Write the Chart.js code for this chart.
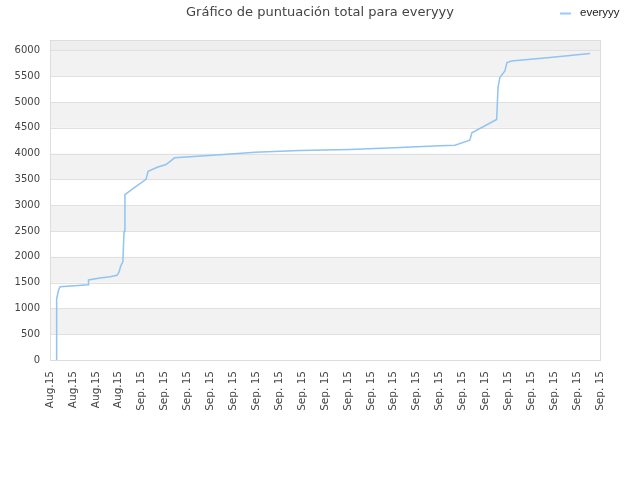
<!DOCTYPE html>
<html>
<head>
<meta charset="utf-8">
<script src="https://cdn.jsdelivr.net/npm/chart.js@4/dist/chart.umd.min.js"></script>
<style>
body { margin: 0; background: #fff; }
</style>
</head>
<body>
<canvas id="grafico" width="640" height="480"></canvas>
<script>
// Etiquetas del eje X (una por marca)
const tickLabels = ['Aug.15', 'Aug.15', 'Aug.15', 'Aug.15',
    'Sep. 15', 'Sep. 15', 'Sep. 15', 'Sep. 15', 'Sep. 15', 'Sep. 15', 'Sep. 15',
    'Sep. 15', 'Sep. 15', 'Sep. 15', 'Sep. 15', 'Sep. 15', 'Sep. 15', 'Sep. 15',
    'Sep. 15', 'Sep. 15', 'Sep. 15', 'Sep. 15', 'Sep. 15', 'Sep. 15', 'Sep. 15'];

// Posición de cada punto (en marcas del eje X) y puntuación acumulada
const dayPos = [0.29, 0.29, 0.38, 0.44, 1.09, 1.66, 1.68, 2.18, 2.62, 2.92,
    3.01, 3.08, 3.18, 3.23, 3.27, 3.71, 4.19, 4.28, 4.71, 5.06,
    5.44, 6.11, 7.42, 8.94, 10.91, 13.09, 15.27, 17.02, 17.67, 18.32,
    18.41, 19.49, 19.55, 19.63, 19.85, 19.94, 20.14, 21.82, 23.56];
const score = [0, 1190, 1360, 1420, 1440, 1460, 1550, 1590, 1615, 1641,
    1700, 1812, 1909, 2492, 3204, 3350, 3500, 3657, 3740, 3787,
    3917, 3936, 3975, 4025, 4058, 4080, 4115, 4150, 4162, 4259,
    4402, 4661, 5276, 5471, 5599, 5762, 5793, 5860, 5937];

// Marcas del eje Y
const yTicks = [0, 500, 1000, 1500, 2000, 2500, 3000, 3500, 4000, 4500, 5000, 5500, 6000];

const seriesName = 'everyyy';
const chartTitle = 'Gráfico de puntuación total para everyyy';

// Bandas alternas de fondo y borde del área
const bandas = {
    id: 'bandas',
    beforeDatasetsDraw(chart) {
        const { ctx, chartArea: a, scales: { y } } = chart;
        ctx.save();
        const ticks = y.ticks;
        for (let i = 0; i < ticks.length - 1; i++) {
            if (i % 2 === 1) {
                const y1 = y.getPixelForValue(ticks[i].value);
                const y2 = y.getPixelForValue(ticks[i + 1].value);
                ctx.fillStyle = '#f2f2f2';
                ctx.fillRect(a.left, y2, a.right - a.left, y1 - y2);
            }
        }
        const yTop = y.getPixelForValue(ticks[ticks.length - 1].value);
        ctx.fillStyle = '#eeeeee';
        ctx.fillRect(a.left, a.top, a.right - a.left, yTop - a.top);
        // líneas de la cuadrícula encima de las bandas
        ctx.strokeStyle = '#e0e0e0';
        ctx.lineWidth = 1;
        ticks.forEach(t => {
            const py = Math.round(y.getPixelForValue(t.value)) + 0.5;
            ctx.beginPath();
            ctx.moveTo(a.left, py);
            ctx.lineTo(a.right, py);
            ctx.stroke();
        });
        ctx.strokeStyle = '#dddddd';
        ctx.strokeRect(a.left + 0.5, a.top + 0.5, a.right - a.left, a.bottom - a.top);
        ctx.restore();
    }
};

// Leyenda en la misma fila que el título
const leyenda = {
    id: 'leyenda',
    afterDraw(chart) {
        const ctx = chart.ctx;
        ctx.save();
        ctx.strokeStyle = '#9cc8f5';
        ctx.lineWidth = 2;
        ctx.beginPath();
        ctx.moveTo(560, 13.5);
        ctx.lineTo(571, 13.5);
        ctx.stroke();
        ctx.fillStyle = '#222';
        ctx.font = '11.5px "Liberation Sans", Arial, sans-serif';
        ctx.textBaseline = 'middle';
        ctx.fillText(seriesName, 580, 13);
        ctx.restore();
    }
};

const puntos = dayPos.map((x, i) => ({ x: x, y: score[i] }));

window.onload = function() {
    const ctx = document.getElementById('grafico').getContext('2d');
    new Chart(ctx, {
        type: 'line',
        data: {
            datasets: [{
                label: seriesName,
                data: puntos,
                borderColor: '#92c3f2',
                borderWidth: 1.5,
                pointRadius: 0,
                fill: false,
                tension: 0
            }]
        },
        options: {
            responsive: false,
            animation: false,
            layout: { padding: 0 },
            plugins: {
                legend: { display: false },
                tooltip: { enabled: false },
                title: {
                    display: true,
                    text: chartTitle,
                    color: '#444',
                    font: { family: 'DejaVu Sans', size: 13, weight: 'normal' },
                    padding: { top: 5, bottom: 19.4 }
                }
            },
            scales: {
                x: {
                    type: 'linear',
                    min: 0,
                    max: tickLabels.length - 1,
                    afterFit(scale) { scale.height = 120; },
                    grid: { display: false, drawTicks: false },
                    border: { display: false },
                    ticks: {
                        stepSize: 1,
                        autoSkip: false,
                        maxTicksLimit: 50,
                        maxRotation: 90,
                        minRotation: 90,
                        padding: 11,
                        color: '#444',
                        font: { family: 'DejaVu Sans', size: 10.5 },
                        callback: v => tickLabels[v]
                    }
                },
                y: {
                    min: 0,
                    max: 6200,
                    afterFit(scale) { scale.width = 50; },
                    afterBuildTicks(scale) {
                        scale.ticks = yTicks.map(v => ({ value: v }));
                    },
                    grid: { display: false, drawTicks: false },
                    border: { display: false },
                    ticks: {
                        padding: 10,
                        color: '#444',
                        font: { family: 'DejaVu Sans', size: 10 },
                        callback: v => String(v)
                    }
                },
                // eje vacío a la derecha: deja el margen de 40 px
                margen: {
                    position: 'right',
                    display: true,
                    afterFit(scale) { scale.width = 40; },
                    grid: { display: false, drawTicks: false },
                    border: { display: false },
                    ticks: { display: false }
                }
            }
        },
        plugins: [bandas, leyenda]
    });
};
</script>
</body>
</html>
